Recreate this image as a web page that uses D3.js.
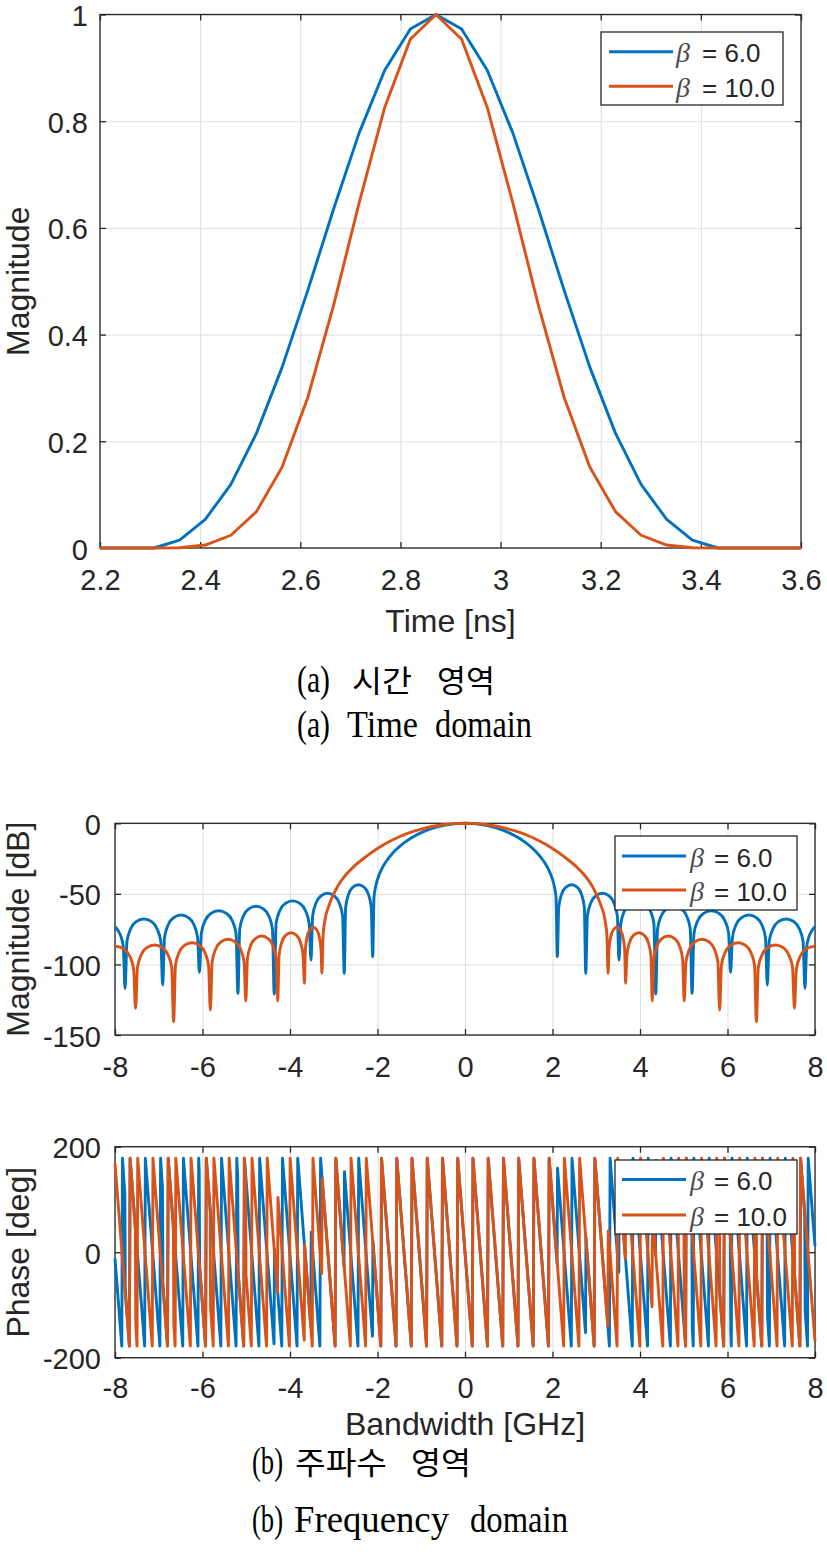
<!DOCTYPE html>
<html><head><meta charset="utf-8">
<script src="https://cdn.jsdelivr.net/npm/d3@7"></script>
<style>body{margin:0;background:#fff}</style>
</head><body>
<svg id="c" width="827" height="1557"></svg>
<script>
// ---------------- DATA ----------------
const seriesNames = ["\u03b2 = 6.0", "\u03b2 = 10.0"];

// (a) time domain
const timeNs = [2.2, 2.3078, 2.359, 2.4102, 2.4614, 2.5126, 2.5638, 2.615, 2.6662, 2.7174, 2.7686, 2.8198, 2.871,
  2.9222, 2.9734, 3.0246, 3.0758, 3.127, 3.1782, 3.2294, 3.2806, 3.3318, 3.383, 3.4342, 3.6];
const pulseBeta6 = [0, 0, 0.0149, 0.0535, 0.1194, 0.2153, 0.3390, 0.4829, 0.6345, 0.7776, 0.8954, 0.9729, 1,
  0.9729, 0.8954, 0.7776, 0.6345, 0.4829, 0.3390, 0.2153, 0.1194, 0.0535, 0.0149, 0, 0];
const pulseBeta10 = [0, 0, 0.0004, 0.0055, 0.0239, 0.0683, 0.1519, 0.2821, 0.4539, 0.6464, 0.8257, 0.9536, 1,
  0.9536, 0.8257, 0.6464, 0.4539, 0.2821, 0.1519, 0.0683, 0.0239, 0.0055, 0.0004, 0, 0];
const timeTicks = [2.2, 2.4, 2.6, 2.8, 3.0, 3.2, 3.4, 3.6];
const timeTickLabels = ["2.2", "2.4", "2.6", "2.8", "3", "3.2", "3.4", "3.6"];
const pulseTicks = [0, 0.2, 0.4, 0.6, 0.8, 1];
const pulseTickLabels = ["0", "0.2", "0.4", "0.6", "0.8", "1"];

// (b) frequency domain: magnitude [GHz, dB]
const magBeta6 = [
  [-8.0,-73.3],[-7.93,-76],[-7.86,-80.6],[-7.81,-87.5],[-7.77,-117],
  [-7.727,-83.8],[-7.641,-74.7],[-7.512,-69.6],[-7.34,-67.8],[-7.168,-69.6],[-7.039,-74.7],[-6.953,-83.8],[-6.91,-114.6],
  [-6.868,-81],[-6.784,-71.9],[-6.658,-66.8],[-6.49,-65],[-6.322,-66.8],[-6.196,-71.9],[-6.112,-81],[-6.07,-105.6],
  [-6.026,-78],[-5.938,-68.9],[-5.806,-63.8],[-5.63,-62],[-5.454,-63.8],[-5.322,-68.9],[-5.234,-78],[-5.19,-120.5],
  [-5.1485,-74.8],[-5.0655,-65.7],[-4.941,-60.6],[-4.775,-58.8],[-4.609,-60.6],[-4.4845,-65.7],[-4.4015,-74.8],[-4.36,-121],
  [-4.318,-71],[-4.234,-61.9],[-4.108,-56.8],[-3.94,-55],[-3.772,-56.8],[-3.646,-61.9],[-3.562,-71],[-3.52,-96.9],
  [-3.482,-65.6],[-3.406,-56.5],[-3.292,-51.4],[-3.14,-49.6],[-2.988,-51.4],[-2.874,-56.5],[-2.798,-65.6],[-2.76,-106.3],
  [-2.7275,-59.5],[-2.6625,-50.4],[-2.565,-45.3],[-2.435,-43.5],[-2.305,-45.3],[-2.2075,-50.4],[-2.1425,-59.5],[-2.11,-94.5],
  [-2.08,-52.3],[-2.05,-46],[-2.0,-39.8],[-1.9,-32.1],[-1.8,-26.9],[-1.65,-21],[-1.5,-16.5],[-1.25,-10.8],[-1.0,-6.6],
  [-0.75,-3.6],[-0.5,-1.6],[-0.25,-0.4],[0,0],
  [0.25,-0.4],[0.5,-1.6],[0.75,-3.6],[1.0,-6.6],[1.25,-10.8],[1.5,-16.5],[1.65,-21],[1.8,-26.9],[1.9,-32.1],[2.0,-39.8],
  [2.05,-46],[2.08,-52.3],[2.11,-94.5],
  [2.1425,-59.5],[2.2075,-50.4],[2.305,-45.3],[2.435,-43.5],[2.565,-45.3],[2.6625,-50.4],[2.7275,-59.5],[2.76,-106.3],
  [2.798,-65.6],[2.874,-56.5],[2.988,-51.4],[3.14,-49.6],[3.292,-51.4],[3.406,-56.5],[3.482,-65.6],[3.52,-96.9],
  [3.562,-71],[3.646,-61.9],[3.772,-56.8],[3.94,-55],[4.108,-56.8],[4.234,-61.9],[4.318,-71],[4.36,-121],
  [4.4015,-74.8],[4.4845,-65.7],[4.609,-60.6],[4.775,-58.8],[4.941,-60.6],[5.0655,-65.7],[5.1485,-74.8],[5.19,-120.5],
  [5.234,-78],[5.322,-68.9],[5.454,-63.8],[5.63,-62],[5.806,-63.8],[5.938,-68.9],[6.026,-78],[6.07,-105.6],
  [6.112,-81],[6.196,-71.9],[6.322,-66.8],[6.49,-65],[6.658,-66.8],[6.784,-71.9],[6.868,-81],[6.91,-114.6],
  [6.953,-83.8],[7.039,-74.7],[7.168,-69.6],[7.34,-67.8],[7.512,-69.6],[7.641,-74.7],[7.727,-83.8],[7.77,-117],
  [7.81,-87.5],[7.86,-80.6],[7.93,-76],[8.0,-73.3]
];
const magBeta10 = [
  [-8.0,-87.4],[-7.97,-87.3],[-7.794,-89.1],[-7.662,-94.2],[-7.574,-103.3],[-7.53,-131.1],
  [-7.4865,-102.2],[-7.3995,-93.1],[-7.269,-88],[-7.095,-86.2],[-6.921,-88],[-6.7905,-93.1],[-6.7035,-102.2],[-6.66,-140.6],
  [-6.618,-100.6],[-6.534,-91.5],[-6.408,-86.4],[-6.24,-84.6],[-6.072,-86.4],[-5.946,-91.5],[-5.862,-100.6],[-5.82,-132.3],
  [-5.7795,-98.2],[-5.6985,-89.1],[-5.577,-84],[-5.415,-82.2],[-5.253,-84],[-5.1315,-89.1],[-5.0505,-98.2],[-5.01,-126],
  [-4.9735,-95.9],[-4.9005,-86.8],[-4.791,-81.7],[-4.645,-79.9],[-4.499,-81.7],[-4.3895,-86.8],[-4.3165,-95.9],[-4.28,-126],
  [-4.2495,-93.5],[-4.1885,-84.4],[-4.097,-79.3],[-3.975,-77.5],[-3.853,-79.3],[-3.7615,-84.4],[-3.7005,-93.5],[-3.67,-113.4],
  [-3.65,-89.7],[-3.61,-80.6],[-3.55,-75.5],[-3.47,-73.7],[-3.39,-75.5],[-3.33,-80.6],[-3.29,-89.7],[-3.27,-106.3],
  [-3.245,-80],[-3.2,-68.5],[-3.1,-57.5],[-3.0,-50],[-2.9,-44],[-2.75,-37.5],[-2.5,-29.5],[-2.25,-23.3],[-2.0,-17.9],
  [-1.75,-13.3],[-1.5,-9.5],[-1.25,-6.5],[-1.0,-4.1],[-0.75,-2.3],[-0.5,-1.0],[-0.25,-0.25],[0,0],
  [0.25,-0.25],[0.5,-1.0],[0.75,-2.3],[1.0,-4.1],[1.25,-6.5],[1.5,-9.5],[1.75,-13.3],[2.0,-17.9],[2.25,-23.3],[2.5,-29.5],
  [2.75,-37.5],[2.9,-44],[3.0,-50],[3.1,-57.5],[3.2,-68.5],[3.245,-80],[3.27,-106.3],
  [3.29,-89.7],[3.33,-80.6],[3.39,-75.5],[3.47,-73.7],[3.55,-75.5],[3.61,-80.6],[3.65,-89.7],[3.67,-113.4],
  [3.7005,-93.5],[3.7615,-84.4],[3.853,-79.3],[3.975,-77.5],[4.097,-79.3],[4.1885,-84.4],[4.2495,-93.5],[4.28,-126],
  [4.3165,-95.9],[4.3895,-86.8],[4.499,-81.7],[4.645,-79.9],[4.791,-81.7],[4.9005,-86.8],[4.9735,-95.9],[5.01,-126],
  [5.0505,-98.2],[5.1315,-89.1],[5.253,-84],[5.415,-82.2],[5.577,-84],[5.6985,-89.1],[5.7795,-98.2],[5.82,-132.3],
  [5.862,-100.6],[5.946,-91.5],[6.072,-86.4],[6.24,-84.6],[6.408,-86.4],[6.534,-91.5],[6.618,-100.6],[6.66,-140.6],
  [6.7035,-102.2],[6.7905,-93.1],[6.921,-88],[7.095,-86.2],[7.269,-88],[7.3995,-93.1],[7.4865,-102.2],[7.53,-131.1],
  [7.574,-103.3],[7.662,-94.2],[7.794,-89.1],[7.97,-87.3],[8.0,-87.4]
];
const freqTicks = [-8, -6, -4, -2, 0, 2, 4, 6, 8];
const freqTickLabels = ["-8", "-6", "-4", "-2", "0", "2", "4", "6", "8"];
const dbTicks = [-150, -100, -50, 0];
const dbTickLabels = ["-150", "-100", "-50", "0"];

// (b) frequency domain: phase. End values, wrap frequencies (-180 -> +180), and sign flips at spectral nulls [f, from, to]
const phaseEndsBeta6 = [[-8, -11.5], [8, 11.5]];
const phaseWrapsBeta6 = [-7.8368,-7.6627,-7.3144,-6.9661,-6.7919,-6.4436,-6.0953,-5.9212,-5.5729,-5.2246,-5.0504,-4.7021,
  -4.1797,-3.8314,-3.3089,-2.9606,-2.4382,-1.9157,-1.5674,-1.2191,-0.8708,-0.5225,-0.1742,
  0.1742,0.5225,0.8708,1.2191,1.5674,1.9157,2.4382,2.9606,3.3089,3.8314,4.1797,4.7021,5.0504,5.2246,5.5729,5.9212,
  6.0953,6.4436,6.7919,6.9661,7.3144,7.6627,7.8368];
const phaseFlipsBeta6 = [[-7.77,110.8,-69.2],[-6.91,121.9,-58.1],[-6.07,153.7,-26.3],[-5.19,144.2,-35.8],[-4.36,-173.7,6.3],
  [-3.52,-141.9,38.1],[-2.76,-27.4,152.6],[-2.11,-159.2,20.8],[2.11,-20.8,159.2],[2.76,-152.6,27.4],[3.52,-38.1,141.9],
  [4.36,-6.3,173.7],[5.19,35.8,-144.2],[6.07,26.3,-153.7],[6.91,58.1,-121.9],[7.77,69.2,-110.8]];
const phaseEndsBeta10 = [[-8, 168.5], [8, -168.5]];
const phaseWrapsBeta10 = [-7.6627,-7.4885,-7.1402,-6.7919,-6.6178,-6.2695,-5.9212,-5.7470,-5.3987,-5.0504,-4.8763,-4.5280,
  -4.0055,-3.4831,-2.9606,-2.6123,-2.2640,-1.9157,-1.5674,-1.2191,-0.8708,-0.5225,-0.1742,
  0.1742,0.5225,0.8708,1.2191,1.5674,1.9157,2.2640,2.6123,2.9606,3.4831,4.0055,4.5280,4.8763,5.0504,5.3987,5.7470,
  5.9212,6.2695,6.6178,6.7919,7.1402,7.4885,7.6627];
const phaseFlipsBeta10 = [[-7.53,42.7,-137.3],[-6.66,43.5,-136.5],[-5.82,75.3,-104.7],[-5.01,138.1,-41.9],[-4.28,-76.4,103.6],
  [-3.67,-166.8,13.2],[-3.27,-40.3,139.7],[3.27,-139.7,40.3],[3.67,-13.2,166.8],[4.28,-103.6,76.4],[5.01,41.9,-138.1],
  [5.82,104.7,-75.3],[6.66,136.5,-43.5],[7.53,137.3,-42.7]];
const phaseTicks = [-200, 0, 200];
const phaseTickLabels = ["-200", "0", "200"];

// ---------------- DRAWING ----------------
const svg = d3.select("#c");
const SANS = "'Liberation Sans', Arial, Helvetica, sans-serif";
const SERIF = "'Liberation Serif', 'Times New Roman', serif";
const KOR = "'Noto Sans CJK KR', sans-serif";
const INK = "#262626";
const COLORS = ["#0072BD", "#D95319"];
const LW = 2.9;

svg.append("rect").attr("width", 827).attr("height", 1557).attr("fill", "#fff");

function panel(o) {
  const x = d3.scaleLinear().domain(o.xDomain).range([o.x0, o.x1]);
  const y = d3.scaleLinear().domain(o.yDomain).range([o.y1, o.y0]);
  const w = o.x1 - o.x0, h = o.y1 - o.y0;
  const g = svg.append("g");
  const clean = a => a.select(".domain").remove();
  // grid
  g.append("g").attr("transform", `translate(0,${o.y1})`)
    .call(d3.axisBottom(x).tickValues(o.xTicks).tickSize(-h).tickFormat(""))
    .call(clean).call(a => a.selectAll("line").attr("stroke", "#dedede").attr("stroke-width", 1));
  g.append("g").attr("transform", `translate(${o.x0},0)`)
    .call(d3.axisLeft(y).tickValues(o.yTicks).tickSize(-w).tickFormat(""))
    .call(clean).call(a => a.selectAll("line").attr("stroke", "#dedede").attr("stroke-width", 1));
  // frame
  g.append("rect").attr("x", o.x0).attr("y", o.y0).attr("width", w).attr("height", h)
    .attr("fill", "none").attr("stroke", INK).attr("stroke-width", 1.3);
  // inward ticks on all four sides
  const tk = a => a.call(clean).selectAll("line").attr("stroke", INK).attr("stroke-width", 1.3);
  g.append("g").attr("transform", `translate(0,${o.y1})`).call(d3.axisBottom(x).tickValues(o.xTicks).tickSize(-6).tickFormat("")).call(tk);
  g.append("g").attr("transform", `translate(0,${o.y0})`).call(d3.axisTop(x).tickValues(o.xTicks).tickSize(-6).tickFormat("")).call(tk);
  g.append("g").attr("transform", `translate(${o.x0},0)`).call(d3.axisLeft(y).tickValues(o.yTicks).tickSize(-6).tickFormat("")).call(tk);
  g.append("g").attr("transform", `translate(${o.x1},0)`).call(d3.axisRight(y).tickValues(o.yTicks).tickSize(-6).tickFormat("")).call(tk);
  // labels
  const lab = a => { a.call(clean); a.attr("font-family", SANS).attr("font-size", 29);
    a.selectAll("text").attr("fill", INK); a.selectAll("line").remove(); };
  g.append("g").attr("transform", `translate(0,${o.y1})`)
    .call(d3.axisBottom(x).tickValues(o.xTicks).tickSize(0).tickPadding(o.xPad).tickFormat((d, i) => o.xLabels[i])).call(lab);
  g.append("g").attr("transform", `translate(${o.x0},0)`)
    .call(d3.axisLeft(y).tickValues(o.yTicks).tickSize(0).tickPadding(o.yPad).tickFormat((d, i) => o.yLabels[i]))
    .call(lab).call(a => a.selectAll("text").attr("dy", "0.38em"));
  // axis titles
  if (o.xTitle) g.append("text").attr("x", (o.x0 + o.x1) / 2).attr("y", o.xTitleY).attr("text-anchor", "middle")
    .attr("font-family", SANS).attr("font-size", 32).attr("fill", INK).text(o.xTitle);
  g.append("text").attr("transform", `translate(${o.yTitleX},${(o.y0 + o.y1) / 2}) rotate(-90)`).attr("text-anchor", "middle")
    .attr("font-family", SANS).attr("font-size", 32).attr("fill", INK).text(o.yTitle);
  const plot = g.append("g");
  return { x, y, plot };
}

function legend(bx, by, bw, bh, lx0, lx1, rowY, textX, eqX) {
  const g = svg.append("g");
  g.append("rect").attr("x", bx).attr("y", by).attr("width", bw).attr("height", bh)
    .attr("fill", "#fff").attr("stroke", INK).attr("stroke-width", 1.3);
  seriesNames.forEach((name, i) => {
    const yy = rowY[i];
    g.append("line").attr("x1", lx0).attr("x2", lx1).attr("y1", yy).attr("y2", yy)
      .attr("stroke", COLORS[i]).attr("stroke-width", LW);
    const t = g.append("text").attr("y", yy + 10.5).attr("font-size", 26).attr("fill", INK);
    t.append("tspan").attr("x", textX).attr("font-family", SERIF).attr("font-style", "italic")
      .attr("font-size", 28).attr("fill", "#4a4a4a").text(name.slice(0, 1));
    t.append("tspan").attr("x", eqX).attr("font-family", SANS).text(name.slice(2));
  });
}

// ---- (a) time domain ----
const pA = panel({ x0: 100, x1: 801, y0: 14.5, y1: 548, xDomain: [2.2, 3.6], yDomain: [0, 1],
  xTicks: timeTicks, xLabels: timeTickLabels, yTicks: pulseTicks, yLabels: pulseTickLabels,
  xPad: 21, yPad: 12, xTitle: "Time [ns]", xTitleY: 632, yTitle: "Magnitude", yTitleX: 29 });
[pulseBeta6, pulseBeta10].forEach((vals, si) => {
  const line = d3.line().x((d, i) => pA.x(timeNs[i])).y(d => pA.y(d));
  pA.plot.append("path").attr("d", line(vals)).attr("fill", "none")
    .attr("stroke", COLORS[si]).attr("stroke-width", LW).attr("stroke-linejoin", "round");
});
legend(601, 32, 182, 73, 609, 673, [51.7, 86.2], 676, 702);

// ---- (b) magnitude ----
const pB = panel({ x0: 115, x1: 815, y0: 823.3, y1: 1035, xDomain: [-8, 8], yDomain: [-150, 0],
  xTicks: freqTicks, xLabels: freqTickLabels, yTicks: dbTicks, yLabels: dbTickLabels,
  xPad: 21, yPad: 14, yTitle: "Magnitude [dB]", yTitleX: 29 });
[magBeta6, magBeta10].forEach((pts, si) => {
  const line = d3.line().x(d => pB.x(d[0])).y(d => pB.y(d[1])).curve(d3.curveMonotoneX);
  pB.plot.append("path").attr("d", line(pts)).attr("fill", "none")
    .attr("stroke", COLORS[si]).attr("stroke-width", LW).attr("stroke-linejoin", "round");
});
legend(615, 836, 182, 74, 622, 686, [856, 890], 690, 714);

// ---- (b) phase ----
const pC = panel({ x0: 115, x1: 815, y0: 1146.7, y1: 1357.7, xDomain: [-8, 8], yDomain: [-200, 200],
  xTicks: freqTicks, xLabels: freqTickLabels, yTicks: phaseTicks, yLabels: phaseTickLabels,
  xPad: 20, yPad: 14, xTitle: "Bandwidth [GHz]", xTitleY: 1435, yTitle: "Phase [deg]", yTitleX: 29 });
function phaseVertices(ends, wraps, flips) {
  const v = [ends[0], ends[1]];
  wraps.forEach(w => { v.push([w - 0.008, -178]); v.push([w + 0.008, 178]); });
  flips.forEach(f => { v.push([f[0] - 0.005, f[1]]); v.push([f[0] + 0.005, f[2]]); });
  return v.sort((a, b) => a[0] - b[0]);
}
[[phaseEndsBeta6, phaseWrapsBeta6, phaseFlipsBeta6], [phaseEndsBeta10, phaseWrapsBeta10, phaseFlipsBeta10]].forEach((s, si) => {
  const line = d3.line().x(d => pC.x(d[0])).y(d => pC.y(d[1]));
  pC.plot.append("path").attr("d", line(phaseVertices(s[0], s[1], s[2]))).attr("fill", "none")
    .attr("stroke", COLORS[si]).attr("stroke-width", LW).attr("stroke-linejoin", "round");
});
legend(615, 1160, 182, 74, 622, 686, [1179.5, 1215], 690, 714);

// ---- captions ----
function caption(y, parts) {
  const t = svg.append("text").attr("y", y).attr("fill", "#000");
  parts.forEach(p => {
    t.append("tspan").attr("x", p[0]).attr("font-family", p[3] ? KOR : SERIF)
      .attr("font-size", p[3] ? 31 : 37).attr("textLength", p[2]).attr("lengthAdjust", "spacingAndGlyphs").text(p[1]);
  });
}
caption(692, [[297, "(a)", 33], [352, "시간", 60, 1], [437, "영역", 58, 1]]);
caption(736.5, [[297, "(a)", 33], [347, "Time", 71], [435, "domain", 97]]);
caption(1474, [[252, "(b)", 31], [295, "주파수", 92, 1], [411, "영역", 60, 1]]);
caption(1532, [[252, "(b)", 31], [294, "Frequency", 155], [470, "domain", 98]]);
</script>
</body></html>
